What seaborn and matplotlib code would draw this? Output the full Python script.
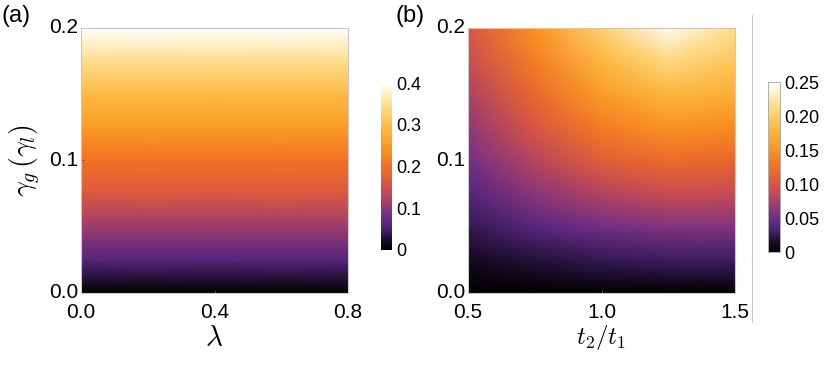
import numpy as np
import pandas as pd
import matplotlib
matplotlib.use("Agg")
import matplotlib.pyplot as plt
import seaborn as sns
from matplotlib.colors import LinearSegmentedColormap
from matplotlib.lines import Line2D

# panel (a): value depends only on gamma_g
lam_a = [0.0, 0.4, 0.8]
gamma_a = [0.0, 0.025, 0.05, 0.075, 0.1, 0.125, 0.15, 0.175, 0.2]
val_a = [0.0, 0.06, 0.11, 0.165, 0.20, 0.25, 0.295, 0.345, 0.40]

# panel (b): rows = gamma_g, columns = t2/t1
t_ratio_b = [0.5, 0.75, 1.0, 1.25, 1.5]
gamma_b = [0.0, 0.025, 0.05, 0.075, 0.1, 0.125, 0.15, 0.175, 0.2]
val_b = [
    [0.000, 0.000, 0.000, 0.000, 0.000],
    [0.012, 0.019, 0.025, 0.028, 0.028],
    [0.025, 0.040, 0.052, 0.058, 0.058],
    [0.038, 0.062, 0.080, 0.090, 0.088],
    [0.052, 0.082, 0.108, 0.120, 0.117],
    [0.065, 0.100, 0.133, 0.150, 0.145],
    [0.078, 0.118, 0.158, 0.180, 0.172],
    [0.090, 0.135, 0.180, 0.210, 0.195],
    [0.100, 0.150, 0.205, 0.245, 0.215],
]

sunset = LinearSegmentedColormap.from_list("sunset", [
    (0.0, "#000000"),
    (0.06, "#1a0c28"),
    (0.13, "#4a2278"),
    (0.2, "#6e2e8a"),
    (0.28, "#a03c6c"),
    (0.38, "#d4504a"),
    (0.5, "#f27022"),
    (0.62, "#fa9a22"),
    (0.75, "#fdbe48"),
    (0.88, "#fee298"),
    (1.0, "#ffffff"),
])

plt.rcParams["mathtext.fontset"] = "cm"
plt.rcParams["font.family"] = ["Liberation Sans", "DejaVu Sans"]

fig = plt.figure(figsize=(8.3, 3.66), dpi=100)
ax_a = fig.add_axes([0.0976, 0.1995, 0.3217, 0.724])
cax_a = fig.add_axes([0.459, 0.317, 0.0133, 0.456])
ax_b = fig.add_axes([0.5639, 0.1995, 0.3217, 0.724])
cax_b = fig.add_axes([0.925, 0.311, 0.0145, 0.4645])

df_a = pd.DataFrame(np.repeat(np.array(val_a)[:, None], len(lam_a), axis=1),
                    index=gamma_a, columns=lam_a)
df_b = pd.DataFrame(val_b, index=gamma_b, columns=t_ratio_b)


def draw_panel(ax, cax, df, vmax, xticks, xlabels, cticks, clabels, outline):
    sns.heatmap(df, ax=ax, cbar_ax=cax, cmap=sunset, vmin=0, vmax=vmax,
                shading="gouraud", rasterized=True)
    nr, nc = df.shape
    ax.set_xlim(0, nc - 1)
    ax.set_ylim(0, nr - 1)
    xs = np.array(df.columns, dtype=float)
    ys = np.array(df.index, dtype=float)
    ax.set_xticks([(v - xs[0]) / (xs[-1] - xs[0]) * (nc - 1) for v in xticks])
    ax.set_xticklabels(xlabels, rotation=0)
    ax.set_yticks([(v - ys[0]) / (ys[-1] - ys[0]) * (nr - 1) for v in [0.0, 0.1, 0.2]])
    ax.set_yticklabels(["0.0", "0.1", "0.2"], rotation=0)
    ax.tick_params(direction="in", length=2, width=0.6, color="#555555",
                   labelsize=15)
    ax.tick_params(axis="x", pad=7)
    ax.tick_params(axis="y", pad=2)
    ax.set_xlabel("")
    ax.set_ylabel("")
    for sp in ax.spines.values():
        sp.set_visible(True)
        sp.set_color("#c8c8c8")
        sp.set_linewidth(0.8)
    cax.set_yticks(cticks)
    cax.set_yticklabels(clabels)
    cax.tick_params(length=0, labelsize=13, pad=3)
    if outline:
        for sp in cax.spines.values():
            sp.set_visible(True)
            sp.set_color("#b0b0b0")
            sp.set_linewidth(0.6)


draw_panel(ax_a, cax_a, df_a, 0.4, [0.0, 0.4, 0.8], ["0.0", "0.4", "0.8"],
           [0, 0.1, 0.2, 0.3, 0.4], ["0", "0.1", "0.2", "0.3", "0.4"], False)
draw_panel(ax_b, cax_b, df_b, 0.25, [0.5, 1.0, 1.5], ["0.5", "1.0", "1.5"],
           [0, 0.05, 0.10, 0.15, 0.20, 0.25], ["0", "0.05", "0.10", "0.15", "0.20", "0.25"], True)

ax_a.set_xlabel(r"$\lambda$", fontsize=21, labelpad=2)
ax_b.set_xlabel(r"$t_2/t_1$", fontsize=18, labelpad=1)
ax_a.set_ylabel(r"$\gamma_g\,(\gamma_l)$", fontsize=20, labelpad=4)

fig.text(0.002, 0.985, "(a)", fontsize=17, va="top", ha="left")
fig.text(0.477, 0.985, "(b)", fontsize=17, va="top", ha="left")

fig.add_artist(Line2D([0.906, 0.906], [0.12, 0.96], color="#c8c8c8", lw=0.8))

fig.savefig("out.png", dpi=100)
